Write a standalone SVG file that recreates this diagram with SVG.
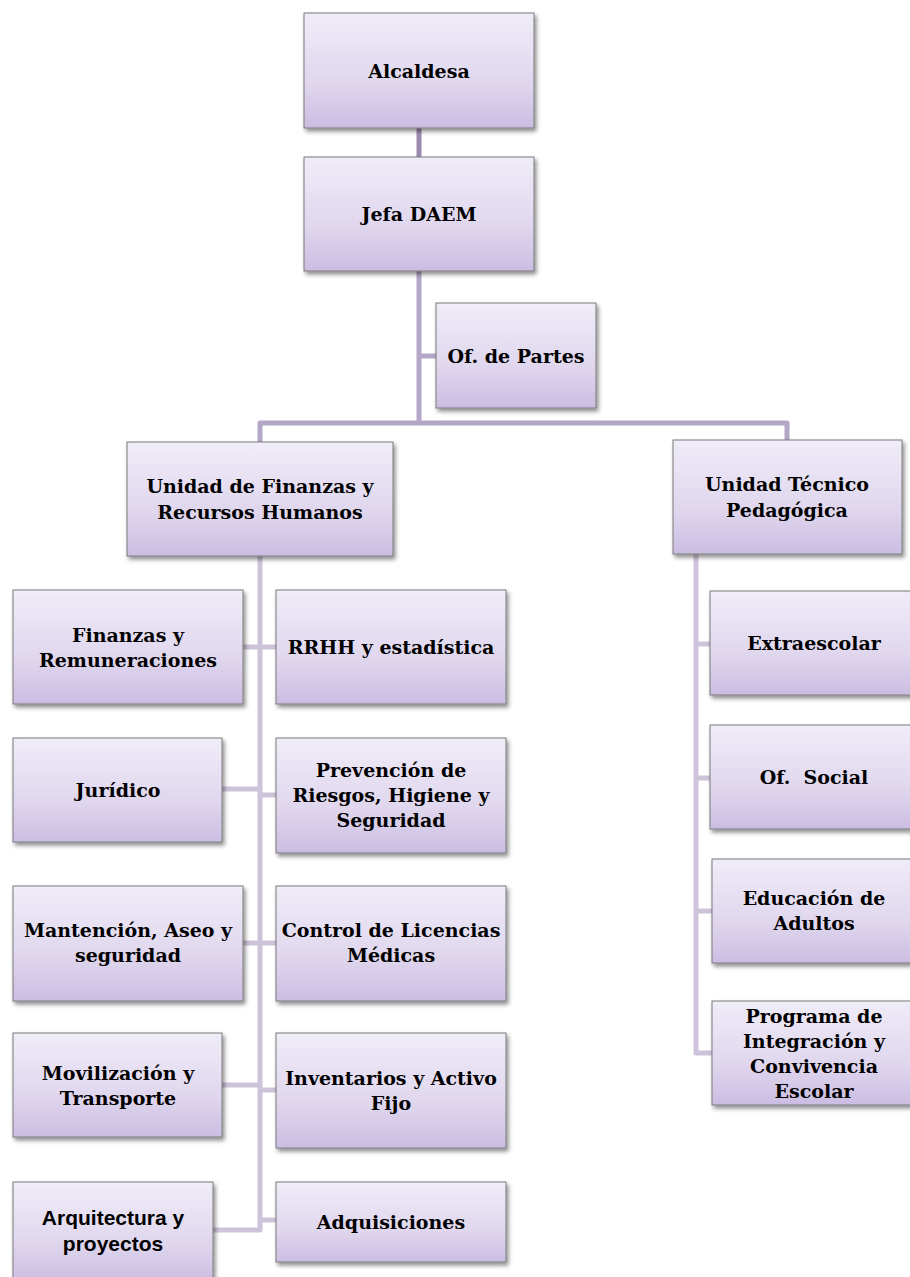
<svg xmlns="http://www.w3.org/2000/svg" width="910" height="1277" viewBox="0 0 910 1277">
<style>
.box{fill:url(#g);stroke:#7a7a7a;stroke-width:1;filter:url(#sh)}
.t{font-family:"DejaVu Serif","Liberation Serif",serif;font-weight:bold;font-size:19px;fill:#000;text-anchor:middle}
.s{font-family:"Liberation Sans",Arial,sans-serif;font-weight:bold;font-size:21px;fill:#000;text-anchor:middle}
.c1{stroke:#9c8bb0;stroke-width:5;fill:none}
.c2{stroke:#b3a6c6;stroke-width:5;fill:none;stroke-linejoin:round}
.c3{stroke:#cdc4da;stroke-width:5;fill:none;stroke-linejoin:round}
</style>
<defs>
<linearGradient id="g" x1="0" y1="0" x2="0" y2="1">
<stop offset="0" stop-color="#f0ecf8"/>
<stop offset="0.6" stop-color="#e0d7ee"/>
<stop offset="1" stop-color="#cbbde2"/>
</linearGradient>
<filter id="sh" x="-10%" y="-10%" width="125%" height="130%">
<feDropShadow dx="2" dy="3" stdDeviation="2" flood-color="#000" flood-opacity="0.45"/>
</filter>
</defs>
<g id="connectors">
<line class="c1" x1="419" y1="128" x2="419" y2="157"/>
<path class="c2" d="M419 271 V423"/>
<path class="c2" d="M419 356 H436"/>
<path class="c2" d="M260 442 V423 H787 V440"/>
<path class="c3" d="M260 556 V1230 H213"/>
<path class="c3" d="M243 647 H276"/>
<path class="c3" d="M222 789 H260"/>
<path class="c3" d="M260 795 H276"/>
<path class="c3" d="M243 943 H276"/>
<path class="c3" d="M222 1085 H260"/>
<path class="c3" d="M260 1090 H276"/>
<path class="c3" d="M260 1220 H276"/>
<path class="c3" d="M696 554 V1053 H712"/>
<path class="c3" d="M696 644 H710"/>
<path class="c3" d="M696 778 H710"/>
<path class="c3" d="M696 911 H712"/>
</g>
<g id="alcaldesa"><rect class="box" x="304" y="13" width="230" height="115"/><text class="t" x="419" y="78">Alcaldesa</text></g>
<g id="jefa"><rect class="box" x="304" y="157" width="230" height="114"/><text class="t" x="419" y="221">Jefa DAEM</text></g>
<g id="partes"><rect class="box" x="436" y="303" width="160" height="105"/><text class="t" x="516" y="363">Of. de Partes</text></g>
<g id="finanzas-rrhh"><rect class="box" x="127" y="442" width="266" height="114"/><text class="t" x="260" y="493">Unidad de Finanzas y</text><text class="t" x="260" y="519">Recursos Humanos</text></g>
<g id="utp"><rect class="box" x="673" y="440" width="229" height="114"/><text class="t" x="787" y="491">Unidad Técnico</text><text class="t" x="787" y="517">Pedagógica</text></g>
<g id="finanzas-rem"><rect class="box" x="13" y="590" width="230" height="114"/><text class="t" x="128" y="642">Finanzas y</text><text class="t" x="128" y="667">Remuneraciones</text></g>
<g id="rrhh"><rect class="box" x="276" y="590" width="230" height="114"/><text class="t" x="391" y="654">RRHH y estadística</text></g>
<g id="juridico"><rect class="box" x="13" y="738" width="209" height="104"/><text class="t" x="118" y="797">Jurídico</text></g>
<g id="prevencion"><rect class="box" x="276" y="738" width="230" height="115"/><text class="t" x="391" y="777">Prevención de</text><text class="t" x="391" y="802">Riesgos, Higiene y</text><text class="t" x="391" y="827">Seguridad</text></g>
<g id="mantencion"><rect class="box" x="13" y="886" width="230" height="115"/><text class="t" x="128" y="937">Mantención, Aseo y</text><text class="t" x="128" y="962">seguridad</text></g>
<g id="licencias"><rect class="box" x="276" y="886" width="230" height="115"/><text class="t" x="391" y="937">Control de Licencias</text><text class="t" x="391" y="962">Médicas</text></g>
<g id="movilizacion"><rect class="box" x="13" y="1033" width="209" height="104"/><text class="t" x="118" y="1080">Movilización y</text><text class="t" x="118" y="1105">Transporte</text></g>
<g id="inventarios"><rect class="box" x="276" y="1033" width="230" height="115"/><text class="t" x="391" y="1085">Inventarios y Activo</text><text class="t" x="391" y="1110">Fijo</text></g>
<g id="arquitectura"><rect class="box" x="13" y="1182" width="200" height="100"/><text class="s" x="113" y="1225">Arquitectura y</text><text class="s" x="113" y="1251">proyectos</text></g>
<g id="adquisiciones"><rect class="box" x="276" y="1182" width="230" height="80"/><text class="t" x="391" y="1229">Adquisiciones</text></g>
<g id="extraescolar"><rect class="box" x="710" y="591" width="206" height="104"/><text class="t" x="814" y="650">Extraescolar</text></g>
<g id="social"><rect class="box" x="710" y="725" width="206" height="104"/><text class="t" x="814" y="784" xml:space="preserve">Of.  Social</text></g>
<g id="adultos"><rect class="box" x="712" y="859" width="204" height="104"/><text class="t" x="814" y="905">Educación de</text><text class="t" x="814" y="930">Adultos</text></g>
<g id="programa"><rect class="box" x="712" y="1001" width="204" height="104"/><text class="t" x="814" y="1023">Programa de</text><text class="t" x="814" y="1048">Integración y</text><text class="t" x="814" y="1073">Convivencia</text><text class="t" x="814" y="1098">Escolar</text></g>
</svg>
